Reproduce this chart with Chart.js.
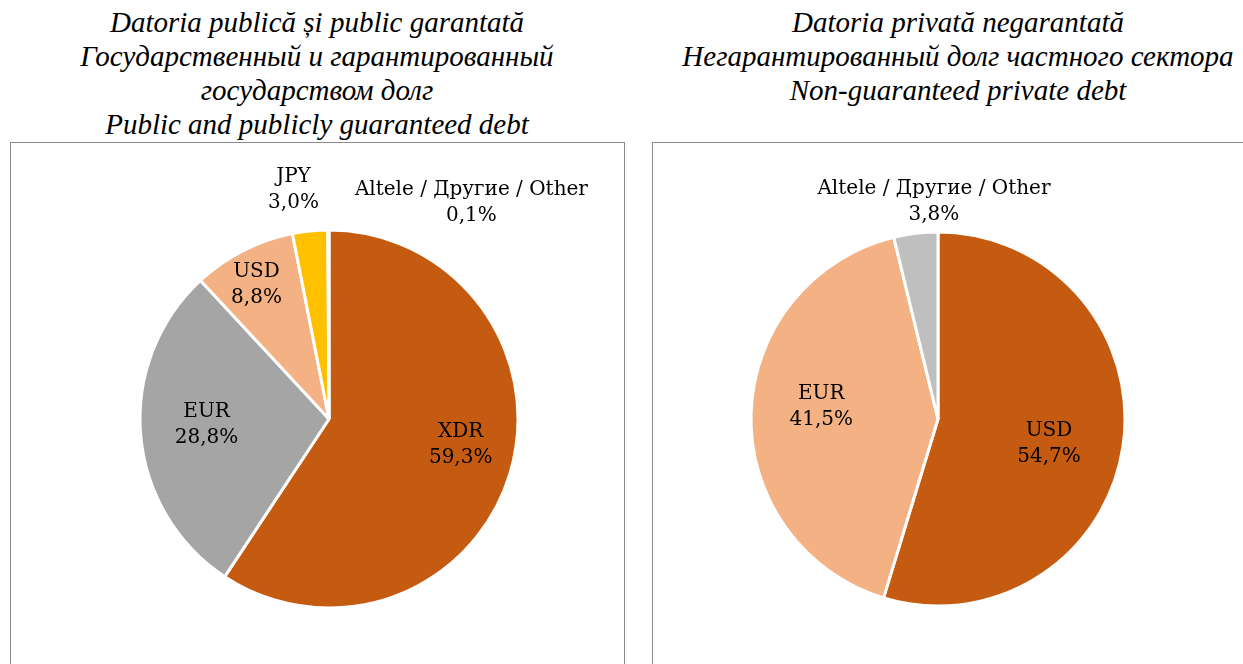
<!DOCTYPE html>
<html>
<head>
<meta charset="utf-8">
<script src="https://cdn.jsdelivr.net/npm/chart.js@4/dist/chart.umd.min.js"></script>
<style>
  html, body { margin:0; padding:0; background:#fff; }
  body { width:1243px; height:664px; overflow:hidden; position:relative; }
  .title { position:absolute; top:5px; text-align:center; font-family:"Liberation Serif", serif; font-style:italic; font-size:29px; line-height:34px; color:#000; white-space:nowrap; }
  .box { position:absolute; top:142px; border:1.5px solid #8c8c8c; box-sizing:border-box; }
  .box canvas { position:absolute; left:0; top:0; }
</style>
</head>
<body>
<div class="title" id="t1" style="left:10px; width:614px;"></div>
<div class="title" id="t2" style="left:652px; width:612px;"></div>
<div class="box" style="left:10px; width:615px; height:540px;"><canvas id="c1" width="612" height="521"></canvas></div>
<div class="box" style="left:652px; width:620px; height:540px;"><canvas id="c2" width="591" height="521"></canvas></div>
<script>
// ---- data ----
const leftTitle = ["Datoria publică și public garantată", "Государственный и гарантированный", "государством долг", "Public and publicly guaranteed debt"];
const rightTitle = ["Datoria privată negarantată", "Негарантированный долг частного сектора", "Non-guaranteed private debt"];

const leftCategories = ["XDR", "EUR", "USD", "JPY", "Altele / Другие / Other"];
const leftValues = [59.3, 28.8, 8.8, 3.0, 0.1];
const leftColors = ["#C55A11", "#A5A5A5", "#F4B183", "#FFC000", "#5B9BD5"];

const rightCategories = ["USD", "EUR", "Altele / Другие / Other"];
const rightValues = [54.7, 41.5, 3.8];
const rightColors = ["#C55A11", "#F4B183", "#BFBFBF"];

// label placement (fraction of radius along slice mid-angle, plus extra shift)
const leftLabelRadius = [0.70, 0.65, 0.81, 1.24, 1.0];
const leftLabelShift = [[5,-12],[0,-4],[-3,2],[-12,4],[143,-27]];
const rightLabelRadius = [0.60, 0.63, 1.17];
const rightLabelShift = [[0,8],[1,-9],[22,0]];

document.getElementById('t1').innerHTML = leftTitle.join('<br>');
document.getElementById('t2').innerHTML = rightTitle.join('<br>');

const fmt = v => v.toFixed(1).replace('.', ',') + '%';

const labelPlugin = {
  id: 'sliceLabels',
  afterDatasetsDraw(chart, args, opts) {
    const ctx = chart.ctx;
    const meta = chart.getDatasetMeta(0);
    const ds = chart.data.datasets[0];
    ctx.save();
    ctx.font = '20px "DejaVu Serif", serif';
    ctx.fillStyle = '#000';
    ctx.textAlign = 'center';
    ctx.textBaseline = 'middle';
    meta.data.forEach((arc, i) => {
      const p = arc.getProps(['x','y','startAngle','endAngle','outerRadius'], true);
      const mid = (p.startAngle + p.endAngle) / 2;
      const r = p.outerRadius * opts.radius[i];
      const cx = p.x + Math.cos(mid) * r + opts.shift[i][0];
      const cy = p.y + Math.sin(mid) * r + opts.shift[i][1];
      ctx.fillText(chart.data.labels[i], cx, cy - 13);
      ctx.fillText(fmt(ds.data[i]), cx, cy + 13);
    });
    ctx.restore();
  }
};

function makePie(id, labels, values, colors, radius, pad, lr, ls) {
  return new Chart(document.getElementById(id), {
    type: 'pie',
    data: { labels, datasets: [{ data: values, backgroundColor: colors, borderColor: '#fff', borderWidth: 3, radius: radius }] },
    options: {
      responsive: false,
      animation: false,
      layout: { padding: pad },
      plugins: { legend: { display: false }, tooltip: { enabled: false }, sliceLabels: { radius: lr, shift: ls } }
    },
    plugins: [labelPlugin]
  });
}

// left: center in canvas (318, 276), right: (285, 276)
makePie('c1', leftCategories, leftValues, leftColors, 189,
  { left: 318 - 200, right: 612 - 318 - 200, top: 276 - 200, bottom: 521 - 276 - 200 }, leftLabelRadius, leftLabelShift);
makePie('c2', rightCategories, rightValues, rightColors, 187,
  { left: 285 - 200, right: 591 - 285 - 200, top: 276 - 200, bottom: 521 - 276 - 200 }, rightLabelRadius, rightLabelShift);
</script>
</body>
</html>
